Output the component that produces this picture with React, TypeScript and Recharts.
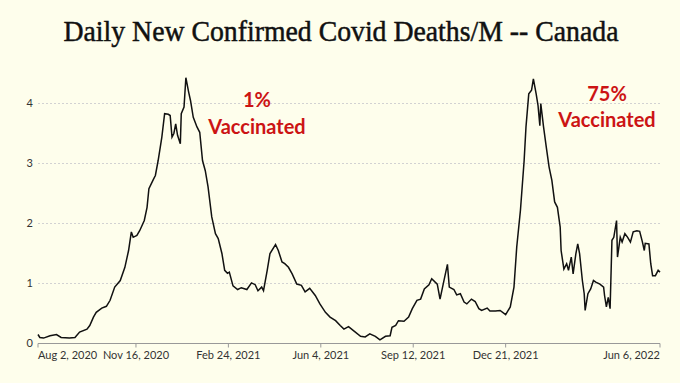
import React from 'react'
import { LineChart, Line, XAxis, YAxis, CartesianGrid } from 'recharts'

// days since Aug 2, 2020
const days = [
  0, 2, 6, 13, 20, 25, 34, 40, 45, 53, 56, 60, 63, 69, 74, 78, 83, 89, 94, 98,
  101, 103, 107, 110, 115, 118, 120, 125, 127, 130, 134, 137, 141, 143, 145, 147, 149, 151, 154, 155,
  158, 160, 163, 165, 168, 172, 175, 178, 181, 184, 188, 192, 195, 199, 202, 205, 207, 211, 216, 220,
  226, 231, 235, 238, 242, 244, 248, 251, 257, 260, 264, 267, 271, 275, 280, 285, 289, 294, 300, 305,
  311, 316, 322, 327, 331, 336, 341, 349, 354, 359, 365, 370, 376, 381, 383, 387, 390, 396, 401, 405,
  410, 414, 418, 423, 426, 432, 435, 439, 443, 445, 450, 453, 457, 461, 464, 469, 473, 477, 480, 486,
  489, 495, 500, 506, 511, 515, 518, 522, 526, 528, 531, 534, 536, 539, 541, 543, 544, 547, 550, 553,
  556, 559, 562, 565, 566, 569, 572, 574, 577, 579, 582, 584, 586, 589, 591, 592, 595, 598, 601, 604,
  608, 612, 613, 615, 617, 619, 621, 623, 626, 627, 630, 632, 635, 638, 641, 644, 648, 651, 654, 656,
  657, 661, 663, 665, 668, 671, 673,
]

// daily new confirmed deaths per million
const deaths = [
  0.15, 0.1, 0.09, 0.13, 0.15, 0.1, 0.09, 0.1, 0.19, 0.24, 0.3, 0.44, 0.52, 0.59, 0.62, 0.72, 0.94, 1.05, 1.27, 1.55,
  1.86, 1.77, 1.8, 1.88, 2.05, 2.27, 2.58, 2.74, 2.8, 3.05, 3.44, 3.83, 3.82, 3.8, 3.44, 3.5, 3.66, 3.47, 3.33, 3.83,
  3.94, 4.43, 4.19, 4.05, 3.77, 3.61, 3.52, 3.05, 2.88, 2.61, 2.11, 1.83, 1.75, 1.5, 1.22, 1.17, 1.19, 0.96, 0.9, 0.93,
  0.9, 1.01, 0.98, 0.88, 0.94, 0.88, 1.22, 1.5, 1.65, 1.55, 1.36, 1.33, 1.27, 1.16, 0.99, 0.97, 0.86, 0.92, 0.8, 0.66,
  0.52, 0.44, 0.38, 0.3, 0.24, 0.28, 0.22, 0.12, 0.11, 0.16, 0.12, 0.06, 0.12, 0.13, 0.27, 0.3, 0.38, 0.37, 0.44, 0.58,
  0.72, 0.74, 0.91, 0.98, 1.08, 0.99, 0.74, 1.03, 1.32, 0.94, 0.9, 0.81, 0.83, 0.69, 0.66, 0.74, 0.7, 0.58, 0.55, 0.59,
  0.54, 0.54, 0.55, 0.48, 0.61, 0.94, 1.61, 2.22, 3.05, 3.61, 4.16, 4.22, 4.41, 4.16, 3.97, 3.63, 4.0, 3.61, 3.27, 2.94,
  2.72, 2.36, 2.27, 1.94, 1.55, 1.24, 1.33, 1.22, 1.44, 1.16, 1.5, 1.66, 1.5, 1.05, 0.83, 0.55, 0.83, 0.91, 1.05, 1.02,
  0.99, 0.94, 0.8, 0.61, 0.77, 0.58, 1.72, 1.77, 2.05, 1.44, 1.77, 1.69, 1.83, 1.77, 1.69, 1.86, 1.88, 1.87, 1.69, 1.55,
  1.67, 1.66, 1.33, 1.13, 1.13, 1.22, 1.19,
]

const tickDays = [0, 106, 206, 306, 406, 506, 673]
const tickLabels = ['Aug 2, 2020', 'Nov 16, 2020', 'Feb 24, 2021', 'Jun 4, 2021', 'Sep 12, 2021', 'Dec 21, 2021', 'Jun 6, 2022']
const yTicks = [0, 1, 2, 3, 4]

const data = days.map((d, i) => ({ day: d, value: deaths[i] }))

const red = '#cc1414'

const DateTick = ({ x, y, payload, index }: any) => {
  const last = tickLabels.length - 1
  const anchor = index === 0 ? 'start' : index === last ? 'end' : 'middle'
  const i = tickDays.indexOf(payload.value)
  return (
    <text x={x} y={y + 8} textAnchor={anchor} fontFamily="Lato" fontSize={11} fill="#333">
      {tickLabels[i]}
    </text>
  )
}

export default function App() {
  return (
    <div style={{ position: 'fixed', left: 0, top: 0, width: 680, height: 383, background: '#fefeec' }}>
      <LineChart width={680} height={383} data={data} margin={{ top: 73.5, right: 20, bottom: 9.5, left: 0 }}>
        <CartesianGrid vertical={false} horizontalValues={yTicks} stroke="#d2d2d2" strokeDasharray="2 2" />
        <XAxis
          dataKey="day"
          type="number"
          domain={[0, 673]}
          ticks={tickDays}
          interval={0}
          height={30}
          stroke="#999"
          tickSize={4}
          tickMargin={3}
          tick={<DateTick />}
        />
        <YAxis
          domain={[0, 4.5]}
          ticks={yTicks}
          width={38}
          axisLine={false}
          tickLine={false}
          tickSize={0}
          tickMargin={5}
          tick={{ fontFamily: 'Lato', fontSize: 11, fill: '#333' }}
        />
        <Line
          type="linear"
          dataKey="value"
          stroke="#111"
          strokeWidth={1.5}
          dot={false}
          isAnimationActive={false}
        />
      </LineChart>
      <svg width={680} height={383} style={{ position: 'absolute', left: 0, top: 0, pointerEvents: 'none' }}>
        <text x={341} y={41} textAnchor="middle" fontFamily="Liberation Serif" fontSize={30} fill="#111"
          stroke="#111" strokeWidth={0.5} textLength={555} lengthAdjust="spacingAndGlyphs">
          Daily New Confirmed Covid Deaths/M -- Canada
        </text>
        <text x={257} y={107} textAnchor="middle" fontFamily="Lato" fontWeight="bold" fontSize={20} fill={red}>1%</text>
        <text x={257} y={134} textAnchor="middle" fontFamily="Lato" fontWeight="bold" fontSize={20} fill={red}>Vaccinated</text>
        <text x={607} y={101} textAnchor="middle" fontFamily="Lato" fontWeight="bold" fontSize={20} fill={red}>75%</text>
        <text x={607} y={127} textAnchor="middle" fontFamily="Lato" fontWeight="bold" fontSize={20} fill={red}>Vaccinated</text>
      </svg>
    </div>
  )
}
